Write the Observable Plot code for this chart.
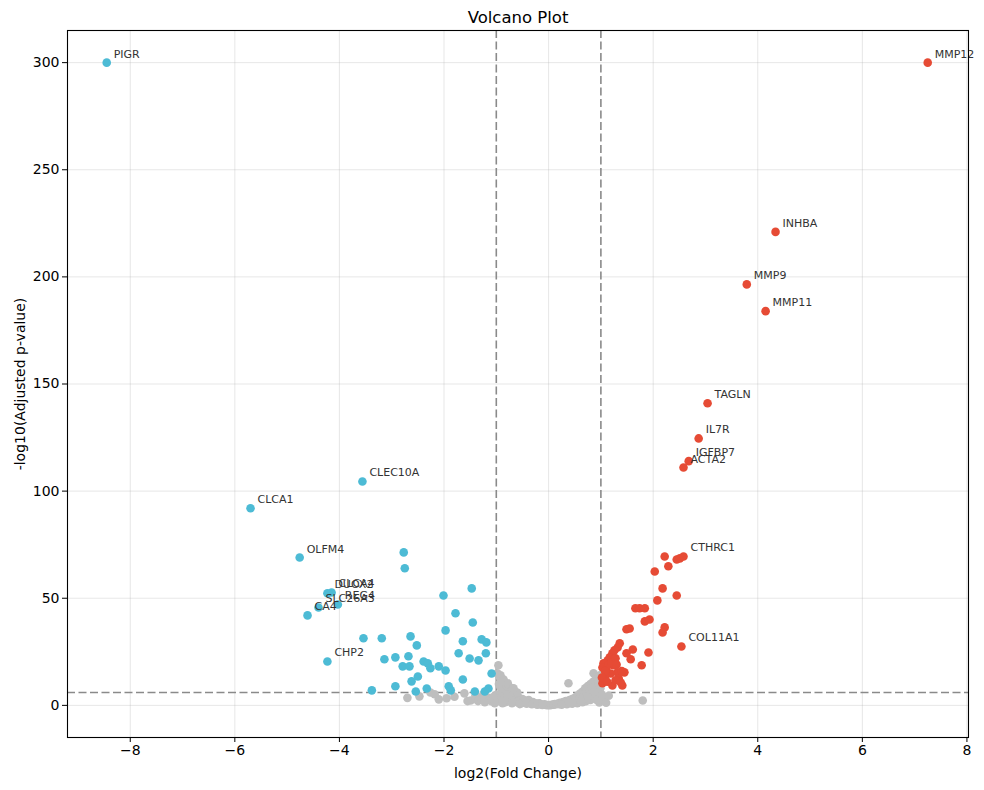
<!DOCTYPE html>
<html>
<head>
<meta charset="utf-8">
<script src="https://cdn.jsdelivr.net/npm/d3@7"></script>
<script src="https://cdn.jsdelivr.net/npm/@observablehq/plot@0.6"></script>
<style>
  html, body { margin: 0; padding: 0; background: #fff; }
  #chart { width: 984px; height: 790px; }
</style>
</head>
<body>
<div id="chart"></div>
<script>
// Thresholds
const fcThreshold = 1;
const pThreshold = 6;

// Labeled genes
const labelGenes = ["PIGR","MMP12","INHBA","MMP9","MMP11","TAGLN","IL7R","IGFBP7","ACTA2","CTHRC1","COL11A1",
  "CLEC10A","CLCA1","OLFM4","DUOX2","CLCA4","REG4","SLC26A3","CA4","CHP2"];
const labelX = [-8.45, 7.25, 4.34, 3.79, 4.15, 3.04, 2.87, 2.68, 2.58, 2.58, 2.54,
  -3.56, -5.70, -4.76, -4.23, -4.15, -4.03, -4.40, -4.61, -4.23];
const labelY = [300, 300, 221, 196.5, 184, 141, 124.6, 114, 111, 69.5, 27.5,
  104.5, 92, 69, 52.3, 52.7, 47.1, 45.7, 42, 20.5];

// Other upregulated points
const upX = [2.22,2.29,2.45,2.51,2.03,2.18,2.45,2.08,1.66,1.74,1.84,1.84,1.93,2.22,2.18,1.49,1.55,1.91,1.61,1.49,
  1.57,1.78,1.45,1.41,1.22,1.03,1.36,1.32,1.26,1.22,1.17,1.13,1.05,1.03,1.24,1.32,1.19,1.09,1.34,1.28,
  1.38,1.10,1.15,1.08,1.20,1.28,1.02,1.12,1.30,1.40];
const upY = [69.5,64.9,68.1,68.6,62.5,54.6,51.3,49,45.3,45.3,45.3,39.2,40.1,36.4,34,35.5,35.9,24.7,26.1,24.3,
  21.5,18.7,15.4,9.3,9.3,10.3,29,27,25.7,24.3,22.4,21,19.6,17.7,18.7,15.4,14.9,14,12.6,11.7,
  10.7,17,19,16,20,22,13,11,19,16];

// Other downregulated points
const downX = [-2.77,-2.75,-1.47,-2.01,-1.78,-1.45,-1.97,-3.54,-3.19,-2.64,-1.64,-1.28,-1.19,-2.52,-1.72,-1.20,-2.68,-2.93,-3.14,-1.51,
  -1.34,-2.39,-2.31,-2.79,-2.66,-2.26,-2.10,-1.97,-1.09,-2.50,-2.62,-1.64,-3.38,-2.93,-2.54,-2.33,-1.91,-1.87,-1.41,-1.22,-1.15];
const downY = [71.4,64,54.6,51.3,43,38.7,35,31.3,31.3,32.2,29.9,30.8,29.4,28,24.3,24.3,22.9,22.4,21.5,21.9,
  21,20.5,19.6,18.2,18.2,17.3,18.2,16.3,14.9,13.5,11.2,12.1,7,8.9,6.5,7.9,8.9,7,6.5,6.5,7.9];

// Non-significant points
const nsX = [-0.96,-0.98,-0.93,-0.90,-0.85,-0.95,-0.92,-0.88,-0.80,-0.75,-0.70,-0.72,-0.65,-0.62,-0.58,-0.55,-0.50,-0.48,-0.45,-0.40,
  -0.38,-0.35,-0.30,-0.28,-0.25,-0.20,-0.18,-0.15,-0.10,-0.08,-0.05,-0.02,-0.99,-0.97,-0.94,-0.90,-0.86,-0.83,-0.80,-0.78,
  -0.68,-0.60,-0.52,-0.42,-0.32,-0.22,-0.12,-0.88,-0.70,-0.55,-0.92,-0.86,-0.78,-0.69,-0.60,-0.67,
  -2.70,-2.47,-2.26,-2.18,-2.10,-1.95,-1.61,-1.49,-1.40,-1.35,-1.28,-1.22,-1.15,-1.10,-1.05,-1.03,-1.25,-1.55,-1.80,
  0.02,0.05,0.08,0.10,0.12,0.15,0.18,0.20,0.22,0.25,0.28,0.30,0.33,0.35,0.38,0.40,0.42,0.45,0.48,0.50,
  0.52,0.55,0.58,0.60,0.62,0.65,0.68,0.70,0.72,0.75,0.78,0.80,0.82,0.85,0.86,0.88,0.90,0.92,0.94,0.96,
  0.98,0.97,0.95,0.90,0.85,0.80,0.72,0.65,0.55,0.45,0.35,0.25,0.75,0.62,0.92,0.88,0.99,
  1.05,1.10,1.15,1.80,1.02];
const nsY = [18.7,15,13,12.5,11,10,8.5,7,9,6,8,4.5,5,3.5,4,2.5,3,1.8,2.2,1.5,
  2.5,1.2,1.5,0.8,1,0.6,1,0.4,0.3,0.5,0.2,0.1,5,3,2,4,3,1.5,2.5,5,
  2,1.5,1,0.8,0.5,0.3,0.2,1,1,0.6,14,12,10.3,7,6,8,
  3.5,4.2,6,5.2,2.8,3.3,5.6,2.3,4.5,2,3,1.5,3.5,2,4,1,5,2,4,
  0.1,0.2,0.4,0.3,0.6,0.5,0.9,0.6,1.2,1,1.5,1.1,2,1.5,10.3,2.5,1.8,3,2.2,3.5,
  2.5,4.5,3,5.5,4,6.5,5,8,6,9,7,10,8.5,11,15,9,12,7,13,10,
  14,1.4,4,5.5,3.5,2.5,2,1.5,1,0.8,0.5,0.3,4,2,2.5,6.5,8,
  3,1.2,4.5,2.3,5];

// Axis ticks
const xTicks = [-8,-6,-4,-2,0,2,4,6,8];
const yTicks = [0,50,100,150,200,250,300];

const colors = {up: "#E64B35", down: "#4DBBD5", ns: "#BEBEBE"};

function cls(x, y) {
  if (y > pThreshold && x > fcThreshold) return "up";
  if (y > pThreshold && x < -fcThreshold) return "down";
  return "ns";
}

const pts = [];
nsX.forEach((x, i) => pts.push({x, y: nsY[i]}));
downX.forEach((x, i) => pts.push({x, y: downY[i]}));
upX.forEach((x, i) => pts.push({x, y: upY[i]}));
labelGenes.forEach((g, i) => pts.push({x: labelX[i], y: labelY[i], gene: g}));
pts.forEach(d => d.cls = cls(d.x, d.y));
const nsPts = pts.filter(d => d.cls === "ns");
const sigPts = pts.filter(d => d.cls !== "ns");
const labeled = pts.filter(d => d.gene);

const font = "DejaVu Sans, sans-serif";

const chart = Plot.plot({
  width: 984,
  height: 790,
  marginLeft: 67,
  marginRight: 16,
  marginTop: 30,
  marginBottom: 53,
  style: {fontFamily: font, fontSize: "14px", color: "black", background: "white"},
  x: {domain: [-9.2, 8.03]},
  y: {domain: [-15, 315]},
  marks: [
    Plot.gridX(xTicks, {stroke: "#b0b0b0", strokeOpacity: 0.3, strokeWidth: 1}),
    Plot.gridY(yTicks, {stroke: "#b0b0b0", strokeOpacity: 0.3, strokeWidth: 1}),
    Plot.ruleX([-fcThreshold, fcThreshold], {stroke: "#8a8a8a", strokeWidth: 1.6, strokeDasharray: "8,3.5"}),
    Plot.ruleY([pThreshold], {stroke: "#8a8a8a", strokeWidth: 1.6, strokeDasharray: "8,3.5"}),
    Plot.dot(nsPts, {x: "x", y: "y", r: 4.3, fill: colors.ns, stroke: "none"}),
    Plot.dot(sigPts, {x: "x", y: "y", r: 4.3, fill: d => colors[d.cls], stroke: "none"}),
    Plot.text(labeled, {x: "x", y: "y", text: "gene", dx: 7, dy: -5, textAnchor: "start",
      fontSize: 11, fill: "#333333", lineAnchor: "bottom"}),
    Plot.axisX(xTicks, {tickSize: 5, fontSize: 14, tickPadding: 3,
      label: "log2(Fold Change)", labelAnchor: "center", labelArrow: "none", labelOffset: 40}),
    Plot.axisY(yTicks, {tickSize: 5, fontSize: 14, tickPadding: 3,
      label: "-log10(Adjusted p-value)", labelAnchor: "center", labelArrow: "none", labelOffset: 52}),
    Plot.frame({stroke: "black", strokeWidth: 1.1}),
    Plot.text(["Volcano Plot"], {frameAnchor: "top", dy: -13, fontSize: 16.5, fill: "black", lineAnchor: "middle"})
  ]
});

document.getElementById("chart").appendChild(chart);
</script>
</body>
</html>
